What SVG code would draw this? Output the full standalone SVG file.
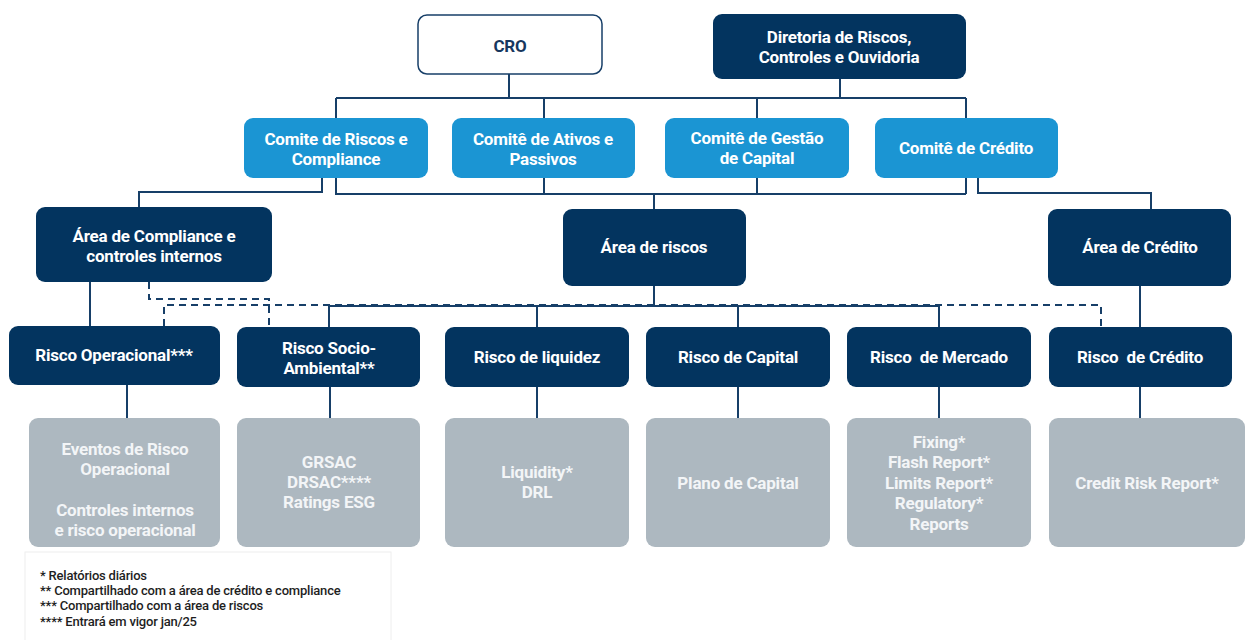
<svg xmlns="http://www.w3.org/2000/svg" width="1246" height="640" viewBox="0 0 1246 640">
<style>
text{font-family:Roboto,"Liberation Sans",sans-serif;font-weight:bold;font-size:17px;text-anchor:middle;dominant-baseline:central;letter-spacing:-0.2px}
.navy rect{fill:#03345f}
.navy text{fill:#ffffff}
.blue rect{fill:#1b95d3}
.blue text{fill:#ffffff}
.gray rect{fill:#adb8c0}
.gray text{fill:#f3f5f7}
.c{fill:none;stroke:#173f68;stroke-width:2}
.d{fill:none;stroke:#173f68;stroke-width:2;stroke-dasharray:7 5}
.legend text{font-size:13px;font-weight:500;text-anchor:start;fill:#1e1e1e;letter-spacing:-0.2px}
</style>
<g id="connectors">
<path class="c" d="M509 74V98M336 98H966M336 98V118M544 98V118M757 98V118M966 98V118M840 79V98"/>
<path class="c" d="M322 178V192H139V207M336 178V194H966M544 178V194M757 178V194M966 178V194M654 194V209M978 178V193H1151V209"/>
<path class="c" d="M90 282V326M654 286V306M328 306H939M329 306V327M537 306V327M738 306V327M939 306V327M1140 286V327"/>
<path class="d" d="M149 282V299H269V327M164 326V305H1101V327"/>
<path class="c" d="M127 385V418M330 387V418M537 387V418M738 387V418M939 387V418M1140 387V418"/>
</g>
<g id="cro"><rect x="418" y="15" width="184" height="59" rx="9" fill="#ffffff" stroke="#173f68" stroke-width="1.5"/><text x="510" y="46" fill="#17375e">CRO</text></g>
<g id="diretoria" class="navy"><rect x="713" y="14" width="253" height="65" rx="9"/><text x="839" y="37">Diretoria de Riscos,</text><text x="839" y="57">Controles e Ouvidoria</text></g>
<g id="comite-riscos" class="blue"><rect x="244" y="118" width="184" height="60" rx="9"/><text x="336" y="139">Comite de Riscos e</text><text x="336" y="159">Compliance</text></g>
<g id="comite-ativos" class="blue"><rect x="452" y="118" width="183" height="60" rx="9"/><text x="543" y="139">Comitê de Ativos e</text><text x="543" y="159">Passivos</text></g>
<g id="comite-capital" class="blue"><rect x="665" y="118" width="184" height="60" rx="9"/><text x="757" y="138">Comitê de Gestão</text><text x="757" y="158">de Capital</text></g>
<g id="comite-credito" class="blue"><rect x="875" y="118" width="183" height="60" rx="9"/><text x="966" y="148">Comitê de Crédito</text></g>
<g id="area-compliance" class="navy"><rect x="36" y="207" width="236" height="75" rx="9"/><text x="154" y="236">Área de Compliance e</text><text x="154" y="256">controles internos</text></g>
<g id="area-riscos" class="navy"><rect x="563" y="209" width="183" height="77" rx="9"/><text x="654" y="247">Área de riscos</text></g>
<g id="area-credito" class="navy"><rect x="1048" y="209" width="183" height="77" rx="9"/><text x="1140" y="247">Área de Crédito</text></g>
<g id="risco-operacional" class="navy"><rect x="9" y="326" width="211" height="59" rx="9"/><text x="114" y="355">Risco Operacional***</text></g>
<g id="risco-socio" class="navy"><rect x="237" y="327" width="183" height="60" rx="9"/><text x="329" y="348">Risco Socio-</text><text x="329" y="368">Ambiental**</text></g>
<g id="risco-liquidez" class="navy"><rect x="445" y="327" width="184" height="60" rx="9"/><text x="537" y="357">Risco de liquidez</text></g>
<g id="risco-capital" class="navy"><rect x="646" y="327" width="184" height="60" rx="9"/><text x="738" y="357">Risco de Capital</text></g>
<g id="risco-mercado" class="navy"><rect x="847" y="327" width="184" height="60" rx="9"/><text x="939" y="357" xml:space="preserve">Risco  de Mercado</text></g>
<g id="risco-credito" class="navy"><rect x="1049" y="327" width="183" height="60" rx="9"/><text x="1140" y="357" xml:space="preserve">Risco  de Crédito</text></g>
<g id="eventos" class="gray"><rect x="29" y="418" width="191" height="129" rx="9"/><text x="125" y="449">Eventos de Risco</text><text x="125" y="469">Operacional</text><text x="125" y="510">Controles internos</text><text x="125" y="530">e risco operacional</text></g>
<g id="grsac" class="gray"><rect x="237" y="418" width="183" height="129" rx="9"/><text x="329" y="462">GRSAC</text><text x="329" y="482">DRSAC****</text><text x="329" y="502">Ratings ESG</text></g>
<g id="liquidity" class="gray"><rect x="445" y="418" width="184" height="129" rx="9"/><text x="537" y="472">Liquidity*</text><text x="537" y="492">DRL</text></g>
<g id="plano" class="gray"><rect x="646" y="418" width="184" height="129" rx="9"/><text x="738" y="483">Plano de Capital</text></g>
<g id="reports" class="gray"><rect x="847" y="418" width="184" height="129" rx="9"/><text x="939" y="442">Fixing*</text><text x="939" y="462">Flash Report*</text><text x="939" y="483">Limits Report*</text><text x="939" y="503">Regulatory*</text><text x="939" y="524">Reports</text></g>
<g id="credit-risk-report" class="gray"><rect x="1049" y="418" width="196" height="129" rx="9"/><text x="1147" y="483">Credit Risk Report*</text></g>
<g id="legend" class="legend"><rect x="25" y="552" width="366" height="100" fill="#ffffff" stroke="#eeeeee" stroke-width="1"/><text x="40" y="575">* Relatórios diários</text><text x="40" y="590">** Compartilhado com a área de crédito e compliance</text><text x="40" y="605">*** Compartilhado com a área de riscos</text><text x="40" y="621">**** Entrará em vigor jan/25</text></g>
</svg>
